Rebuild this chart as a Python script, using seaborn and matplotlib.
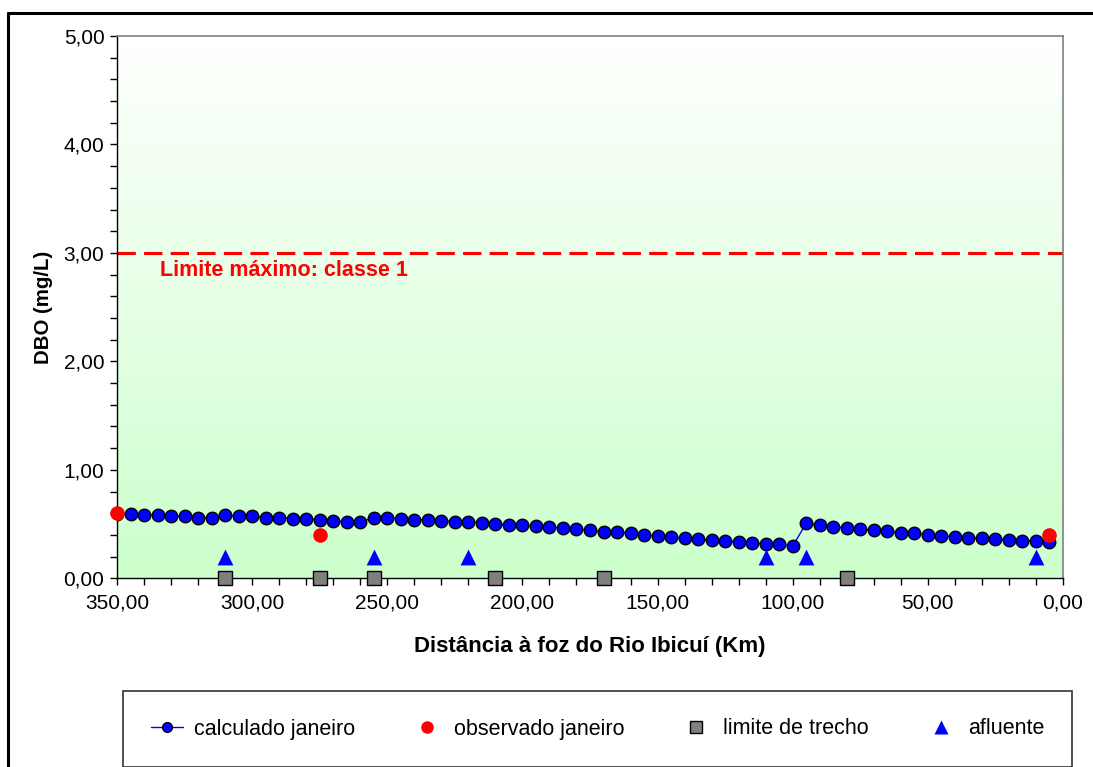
import numpy as np
import pandas as pd
import matplotlib
matplotlib.use("Agg")
import matplotlib.pyplot as plt
from matplotlib.lines import Line2D
from matplotlib.ticker import MultipleLocator, FuncFormatter
import seaborn as sns

# Calculated BOD profile (every 5 km, from 350 km down to 5 km)
dist_calc = list(range(350, 0, -5))
dbo_calc = [0.595, 0.590, 0.584, 0.584, 0.571, 0.571, 0.559, 0.559, 0.581, 0.571,
            0.571, 0.559, 0.559, 0.550, 0.550, 0.538, 0.528, 0.519, 0.519, 0.559,
            0.559, 0.550, 0.541, 0.541, 0.531, 0.522, 0.522, 0.513, 0.504, 0.491,
            0.488, 0.479, 0.470, 0.464, 0.455, 0.442, 0.430, 0.424, 0.415, 0.399,
            0.393, 0.378, 0.369, 0.359, 0.353, 0.344, 0.335, 0.325, 0.316, 0.313,
            0.298, 0.507, 0.491, 0.470, 0.467, 0.452, 0.442, 0.433, 0.421, 0.415,
            0.402, 0.393, 0.381, 0.372, 0.369, 0.362, 0.356, 0.347, 0.347, 0.332]

# Observed values (January)
dist_obs = [350, 275, 5]
dbo_obs = [0.60, 0.40, 0.40]

# Reach boundaries
dist_trecho = [310, 275, 255, 210, 170, 80]
dbo_trecho = [0.0, 0.0, 0.0, 0.0, 0.0, 0.0]

# Tributaries
dist_afluente = [310, 255, 220, 110, 95, 10]
dbo_afluente = [0.20, 0.20, 0.20, 0.20, 0.20, 0.20]

limite_classe1 = 3.0

df_calc = pd.DataFrame({"dist": dist_calc, "dbo": dbo_calc})
df_obs = pd.DataFrame({"dist": dist_obs, "dbo": dbo_obs})
df_tr = pd.DataFrame({"dist": dist_trecho, "dbo": dbo_trecho})
df_af = pd.DataFrame({"dist": dist_afluente, "dbo": dbo_afluente})

sns.set_theme(style="white")
plt.rcParams["font.family"] = ["Liberation Sans", "DejaVu Sans"]
plt.rcParams["text.color"] = "black"
plt.rcParams["axes.labelcolor"] = "black"

W, H = 1093, 767
fig = plt.figure(figsize=(W / 100, H / 100), dpi=100)
ax = fig.add_axes([117 / W, 1 - 578.3 / H, (1063 - 117) / W, (578.3 - 36) / H])

# Gradient background of the plot area
grad = np.linspace(0, 1, 256).reshape(-1, 1)
bottom = np.array([204, 255, 204]) / 255
top = np.array([255, 255, 255]) / 255
img = bottom[None, None, :] * (1 - grad[..., None]) + top[None, None, :] * grad[..., None]
ax.imshow(img, extent=[0, 1, 0, 1], transform=ax.transAxes, origin="lower",
          aspect="auto", zorder=0)

# Class 1 limit
ax.axhline(limite_classe1, color="#FF0000", lw=2.2, ls=(0, (6, 2.7)), zorder=2)
ax.text(334, 2.84, "Limite máximo: classe 1", color="#FF0000", fontsize=15.5,
        fontweight="bold", va="center", ha="left", zorder=3)

sns.lineplot(data=df_calc, x="dist", y="dbo", ax=ax, color="#0000FF", lw=1,
             marker="o", markersize=9, markerfacecolor="#0000FF",
             markeredgecolor="black", markeredgewidth=1, zorder=4)
sns.scatterplot(data=df_obs, x="dist", y="dbo", ax=ax, color="#FF0000", s=110,
                linewidth=0, zorder=5, clip_on=False)
sns.scatterplot(data=df_tr, x="dist", y="dbo", ax=ax, color="#808080", marker="s",
                s=110, edgecolor="black", linewidth=1, zorder=5, clip_on=False)
sns.scatterplot(data=df_af, x="dist", y="dbo", ax=ax, color="#0000FF", marker="^",
                s=130, linewidth=0, zorder=5)

ax.set_xlim(350, 0)
ax.set_ylim(0, 5)
ax.xaxis.set_major_locator(MultipleLocator(50))
ax.xaxis.set_minor_locator(MultipleLocator(10))
ax.yaxis.set_major_locator(MultipleLocator(1))
ax.yaxis.set_minor_locator(MultipleLocator(0.2))
comma = FuncFormatter(lambda v, p: f"{v:.2f}".replace(".", ","))
ax.xaxis.set_major_formatter(comma)
ax.yaxis.set_major_formatter(comma)
ax.tick_params(axis="both", which="both", direction="out", color="black",
               labelsize=15, labelcolor="black")
ax.tick_params(axis="x", pad=6)
ax.tick_params(axis="y", pad=4)
ax.tick_params(which="major", length=5, width=1, bottom=True, left=True)
ax.tick_params(which="minor", length=5, width=1, bottom=True, left=True)

for side in ("left", "bottom"):
    ax.spines[side].set_color("black")
    ax.spines[side].set_linewidth(1)
for side in ("top", "right"):
    ax.spines[side].set_color("#808080")
    ax.spines[side].set_linewidth(1.2)

ax.set_xlabel("Distância à foz do Rio Ibicuí (Km)", fontsize=16, fontweight="bold",
              labelpad=17)
ax.set_ylabel("DBO (mg/L)", fontsize=14.7, fontweight="bold", labelpad=8)

# Outer chart frame (top and left edges)
fig.add_artist(Line2D([8 / W, 8 / W], [0, 1 - 13 / H], transform=fig.transFigure,
                      color="black", lw=2.2))
fig.add_artist(Line2D([8 / W, 1], [1 - 13 / H, 1 - 13 / H], transform=fig.transFigure,
                      color="black", lw=2.2))

handles = [
    Line2D([], [], color="#0000FF", lw=1, marker="o", markersize=7,
           markerfacecolor="#0000FF", markeredgecolor="black"),
    Line2D([], [], color="none", marker="o", markersize=9,
           markerfacecolor="#FF0000", markeredgecolor="none"),
    Line2D([], [], color="none", marker="s", markersize=9,
           markerfacecolor="#808080", markeredgecolor="black"),
    Line2D([], [], color="none", marker="^", markersize=10,
           markerfacecolor="#0000FF", markeredgecolor="none"),
]
labels = ["calculado janeiro", "observado janeiro", "limite de trecho", "afluente"]
if ax.get_legend() is not None:
    ax.get_legend().remove()
leg = fig.legend(handles, labels, loc="center",
                 bbox_to_anchor=(123 / W, 1 - 766 / H, (1072 - 123) / W, 74 / H),
                 mode="expand", ncol=4, frameon=True, fancybox=False,
                 edgecolor="black", fontsize=15.5, handlelength=1.5,
                 handletextpad=0.5, borderpad=1.3, borderaxespad=0)
leg.get_frame().set_linewidth(1.2)

fig.savefig("out.png", dpi=100)
